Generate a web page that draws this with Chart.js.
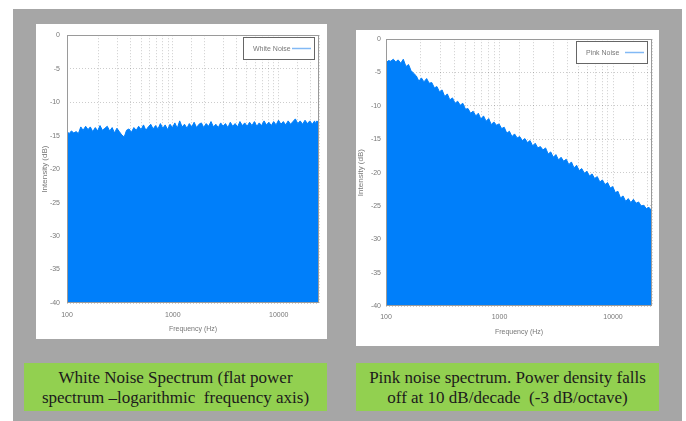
<!DOCTYPE html>
<html>
<head>
<meta charset="utf-8">
<script src="https://cdn.jsdelivr.net/npm/chart.js@4.4.1/dist/chart.umd.min.js"></script>
<style>
  body { margin: 0; width: 686px; height: 421px; background: #fff; position: relative; overflow: hidden; }
  #bg { position: absolute; left: 13px; top: 9px; width: 669px; height: 412px; background: #a6a6a6; }
  .panel { position: absolute; background: #fff; }
  .panel canvas { display: block; }
  .caption { position: absolute; top: 363px; width: 303px; height: 48px; background: #92d050; color: #1c1a1c;
    font-family: "Liberation Serif", "Times New Roman", serif; font-size: 17px; line-height: 20px;
    text-align: center; white-space: nowrap; box-sizing: border-box; padding-top: 5px; }
</style>
</head>
<body>
<div id="bg"></div>
<div class="panel" style="left:36px;top:24px;width:291px;height:315px"><canvas id="whiteChart" width="291" height="315"></canvas></div>
<div class="panel" style="left:356px;top:30px;width:303px;height:316px"><canvas id="pinkChart" width="303" height="316"></canvas></div>
<div class="caption" style="left:24px">White Noise Spectrum (flat power<br>spectrum –logarithmic&nbsp; frequency axis)</div>
<div class="caption" style="left:356px">Pink noise spectrum. Power density falls<br>off at 10 dB/decade&nbsp; (-3 dB/octave)</div>

<script>
// frequency bins (Hz)
var freqs = [100, 105, 110, 116, 122, 128, 135, 142, 150, 158, 166, 175, 185, 195, 205, 216, 228, 240, 253, 267,
  281, 296, 312, 329, 347, 365, 385, 406, 428, 451, 475, 501, 528, 556, 586, 618, 651, 686, 723, 762,
  803, 846, 892, 940, 991, 1044, 1100, 1160, 1222, 1288, 1357, 1430, 1507, 1588, 1674, 1764, 1859, 1959, 2064, 2175,
  2292, 2416, 2546, 2683, 2827, 2979, 3140, 3309, 3487, 3674, 3872, 4080, 4300, 4531, 4775, 5032, 5303, 5588, 5889, 6206,
  6540, 6892, 7263, 7654, 8066, 8500, 8957, 9439, 9947, 10482, 11046, 11641, 12267, 12927, 13623, 14356, 15128, 15942, 16800, 17704,
  18656, 19660, 20718, 21832, 22050, 23000, 24000];

// white noise intensity (dB)
var whiteNoise = [-14.4, -14.7, -14.3, -14.6, -14.4, -14.7, -13.7, -14.2, -13.6, -14.1, -13.7, -14.4, -13.8, -14.3, -13.5, -14.2, -13.9, -13.6, -14.3, -13.8,
  -14.6, -13.9, -14.4, -14.9, -15.2, -14.2, -14.0, -14.5, -13.8, -14.2, -13.6, -14.1, -13.4, -14.2, -13.7, -13.3, -14.0, -13.5, -14.0, -13.2,
  -13.9, -13.4, -14.1, -13.3, -13.8, -13.1, -13.9, -12.8, -13.7, -13.3, -13.9, -13.2, -13.7, -13.0, -13.8, -13.3, -13.1, -13.8, -13.2, -13.6,
  -12.9, -13.7, -13.3, -13.8, -13.1, -13.6, -13.2, -13.8, -13.0, -13.6, -13.2, -13.7, -12.9, -13.5, -13.1, -13.6, -13.0, -13.5, -12.9, -13.6,
  -13.1, -13.5, -12.8, -13.4, -13.0, -13.5, -12.9, -13.4, -12.7, -13.3, -12.9, -13.4, -12.8, -13.3, -12.9, -12.5, -13.2, -12.8, -13.3, -12.7,
  -13.2, -12.8, -13.3, -12.8, -13.2, -12.8, -13.1];

// pink noise intensity (dB)
var pinkNoise = [-3.6, -3.2, -3.3, -3.0, -3.4, -3.1, -3.6, -3.0, -4.1, -3.8, -4.7, -5.1, -5.5, -6.3, -5.8, -6.4, -5.9, -6.6, -6.5, -7.3,
  -7.1, -7.9, -7.6, -8.6, -8.2, -9.1, -8.8, -9.6, -9.3, -9.9, -9.6, -10.5, -10.4, -11.1, -10.8, -11.5, -11.1, -12.0, -11.5, -12.3,
  -11.9, -12.8, -12.4, -12.9, -12.7, -13.4, -13.2, -14.1, -13.8, -14.6, -14.2, -14.8, -14.6, -15.2, -14.9, -15.5, -15.2, -16.0, -15.6, -16.3,
  -16.1, -16.6, -16.3, -17.2, -16.9, -17.7, -17.3, -18.1, -17.7, -18.3, -18.0, -18.8, -18.4, -19.3, -18.9, -19.7, -19.4, -20.1, -19.8, -20.5,
  -20.2, -20.9, -20.6, -21.4, -21.1, -21.8, -21.5, -22.3, -22.1, -23.0, -22.8, -23.8, -23.5, -24.3, -23.9, -24.5, -24.0, -24.6, -24.4, -25.0,
  -24.9, -25.4, -25.2, -25.7, -25.8];

var xTickLabels = [100, 1000, 10000];
var yMin = -40, yMax = 0, yStep = 5;

var blue = 'rgb(0, 127, 250)';
var textGrey = '#787878';
var tickFont = { family: 'Liberation Sans Narrow, Liberation Sans, Arial, sans-serif', size: 7 };

// gnuplot style frame around plot + legend box in the top right corner
var frameLegend = {
  id: 'frameLegend',
  afterDatasetsDraw: function (chart) {
    var ctx = chart.ctx, a = chart.chartArea;
    ctx.save();
    ctx.strokeStyle = '#9a9a9a';
    ctx.lineWidth = 1;
    ctx.strokeRect(Math.round(a.left) + 0.5, Math.round(a.top) + 0.5, Math.round(a.width) - 1, Math.round(a.height) - 1);

    var bw = 72, bh = 23;
    var bx = Math.round(a.right) - 4 - bw, by = Math.round(a.top) + 2;
    ctx.fillStyle = '#fff';
    ctx.fillRect(bx, by, bw, bh);
    ctx.strokeStyle = '#666';
    ctx.strokeRect(bx + 0.5, by + 0.5, bw - 1, bh - 1);
    ctx.fillStyle = textGrey;
    ctx.font = '7px Liberation Sans, Arial, sans-serif';
    ctx.textBaseline = 'middle';
    ctx.fillText(chart.data.datasets[0].label, bx + 10, by + bh / 2 + 0.5);
    ctx.strokeStyle = 'rgb(130, 185, 245)';
    ctx.lineWidth = 1.5;
    ctx.beginPath();
    ctx.moveTo(bx + bw - 23, by + bh / 2);
    ctx.lineTo(bx + bw - 4, by + bh / 2);
    ctx.stroke();
    ctx.restore();
  }
};

function makeChart(id, label, values, xMax, g) {
  var points = values.map(function (v, i) { return { x: freqs[i], y: v }; });
  return new Chart(document.getElementById(id), {
    type: 'line',
    data: {
      datasets: [{
        label: label,
        data: points,
        fill: 'start',
        backgroundColor: blue,
        borderColor: blue,
        borderWidth: 1,
        pointRadius: 0,
        tension: 0
      }]
    },
    options: {
      responsive: false,
      animation: false,
      devicePixelRatio: 1,
      layout: { padding: { left: 0, right: 6, top: g.top, bottom: 0 } },
      plugins: { legend: { display: false }, tooltip: { enabled: false } },
      scales: {
        x: {
          type: 'logarithmic',
          min: 100,
          max: xMax,
          afterFit: function (s) { s.height = g.xHeight; },
          grid: { color: 'rgba(0,0,0,0.2)', drawTicks: false },
          border: { display: false, dash: [1, 2] },
          ticks: {
            autoSkip: false, maxRotation: 0, padding: g.xPad, color: textGrey, font: tickFont,
            callback: function (v) { return xTickLabels.indexOf(v) >= 0 ? String(v) : ''; }
          },
          title: { display: true, text: 'Frequency (Hz)', color: textGrey, font: tickFont, padding: { top: 0, bottom: g.xTitlePad } }
        },
        y: {
          min: yMin,
          max: yMax,
          afterFit: function (s) { s.width = g.yWidth; },
          grid: { color: 'rgba(0,0,0,0.2)', drawTicks: false },
          border: { display: false, dash: [1, 2] },
          ticks: { stepSize: yStep, padding: g.yPad, color: textGrey, font: tickFont },
          title: { display: true, text: 'Intensity (dB)', color: textGrey, font: { family: 'Liberation Sans, Arial, sans-serif', size: 8 }, padding: { top: g.yTitlePad, bottom: 0 } }
        }
      }
    },
    plugins: [frameLegend]
  });
}

makeChart('whiteChart', 'White Noise', whiteNoise, 24000, { top: 10, xHeight: 36, yWidth: 31, xPad: 8, xTitlePad: 6, yPad: 7, yTitlePad: 4 });
makeChart('pinkChart', 'Pink Noise', pinkNoise, 22050, { top: 7, xHeight: 40, yWidth: 30, xPad: 7, xTitlePad: 10, yPad: 5, yTitlePad: 0 });
</script>
</body>
</html>
